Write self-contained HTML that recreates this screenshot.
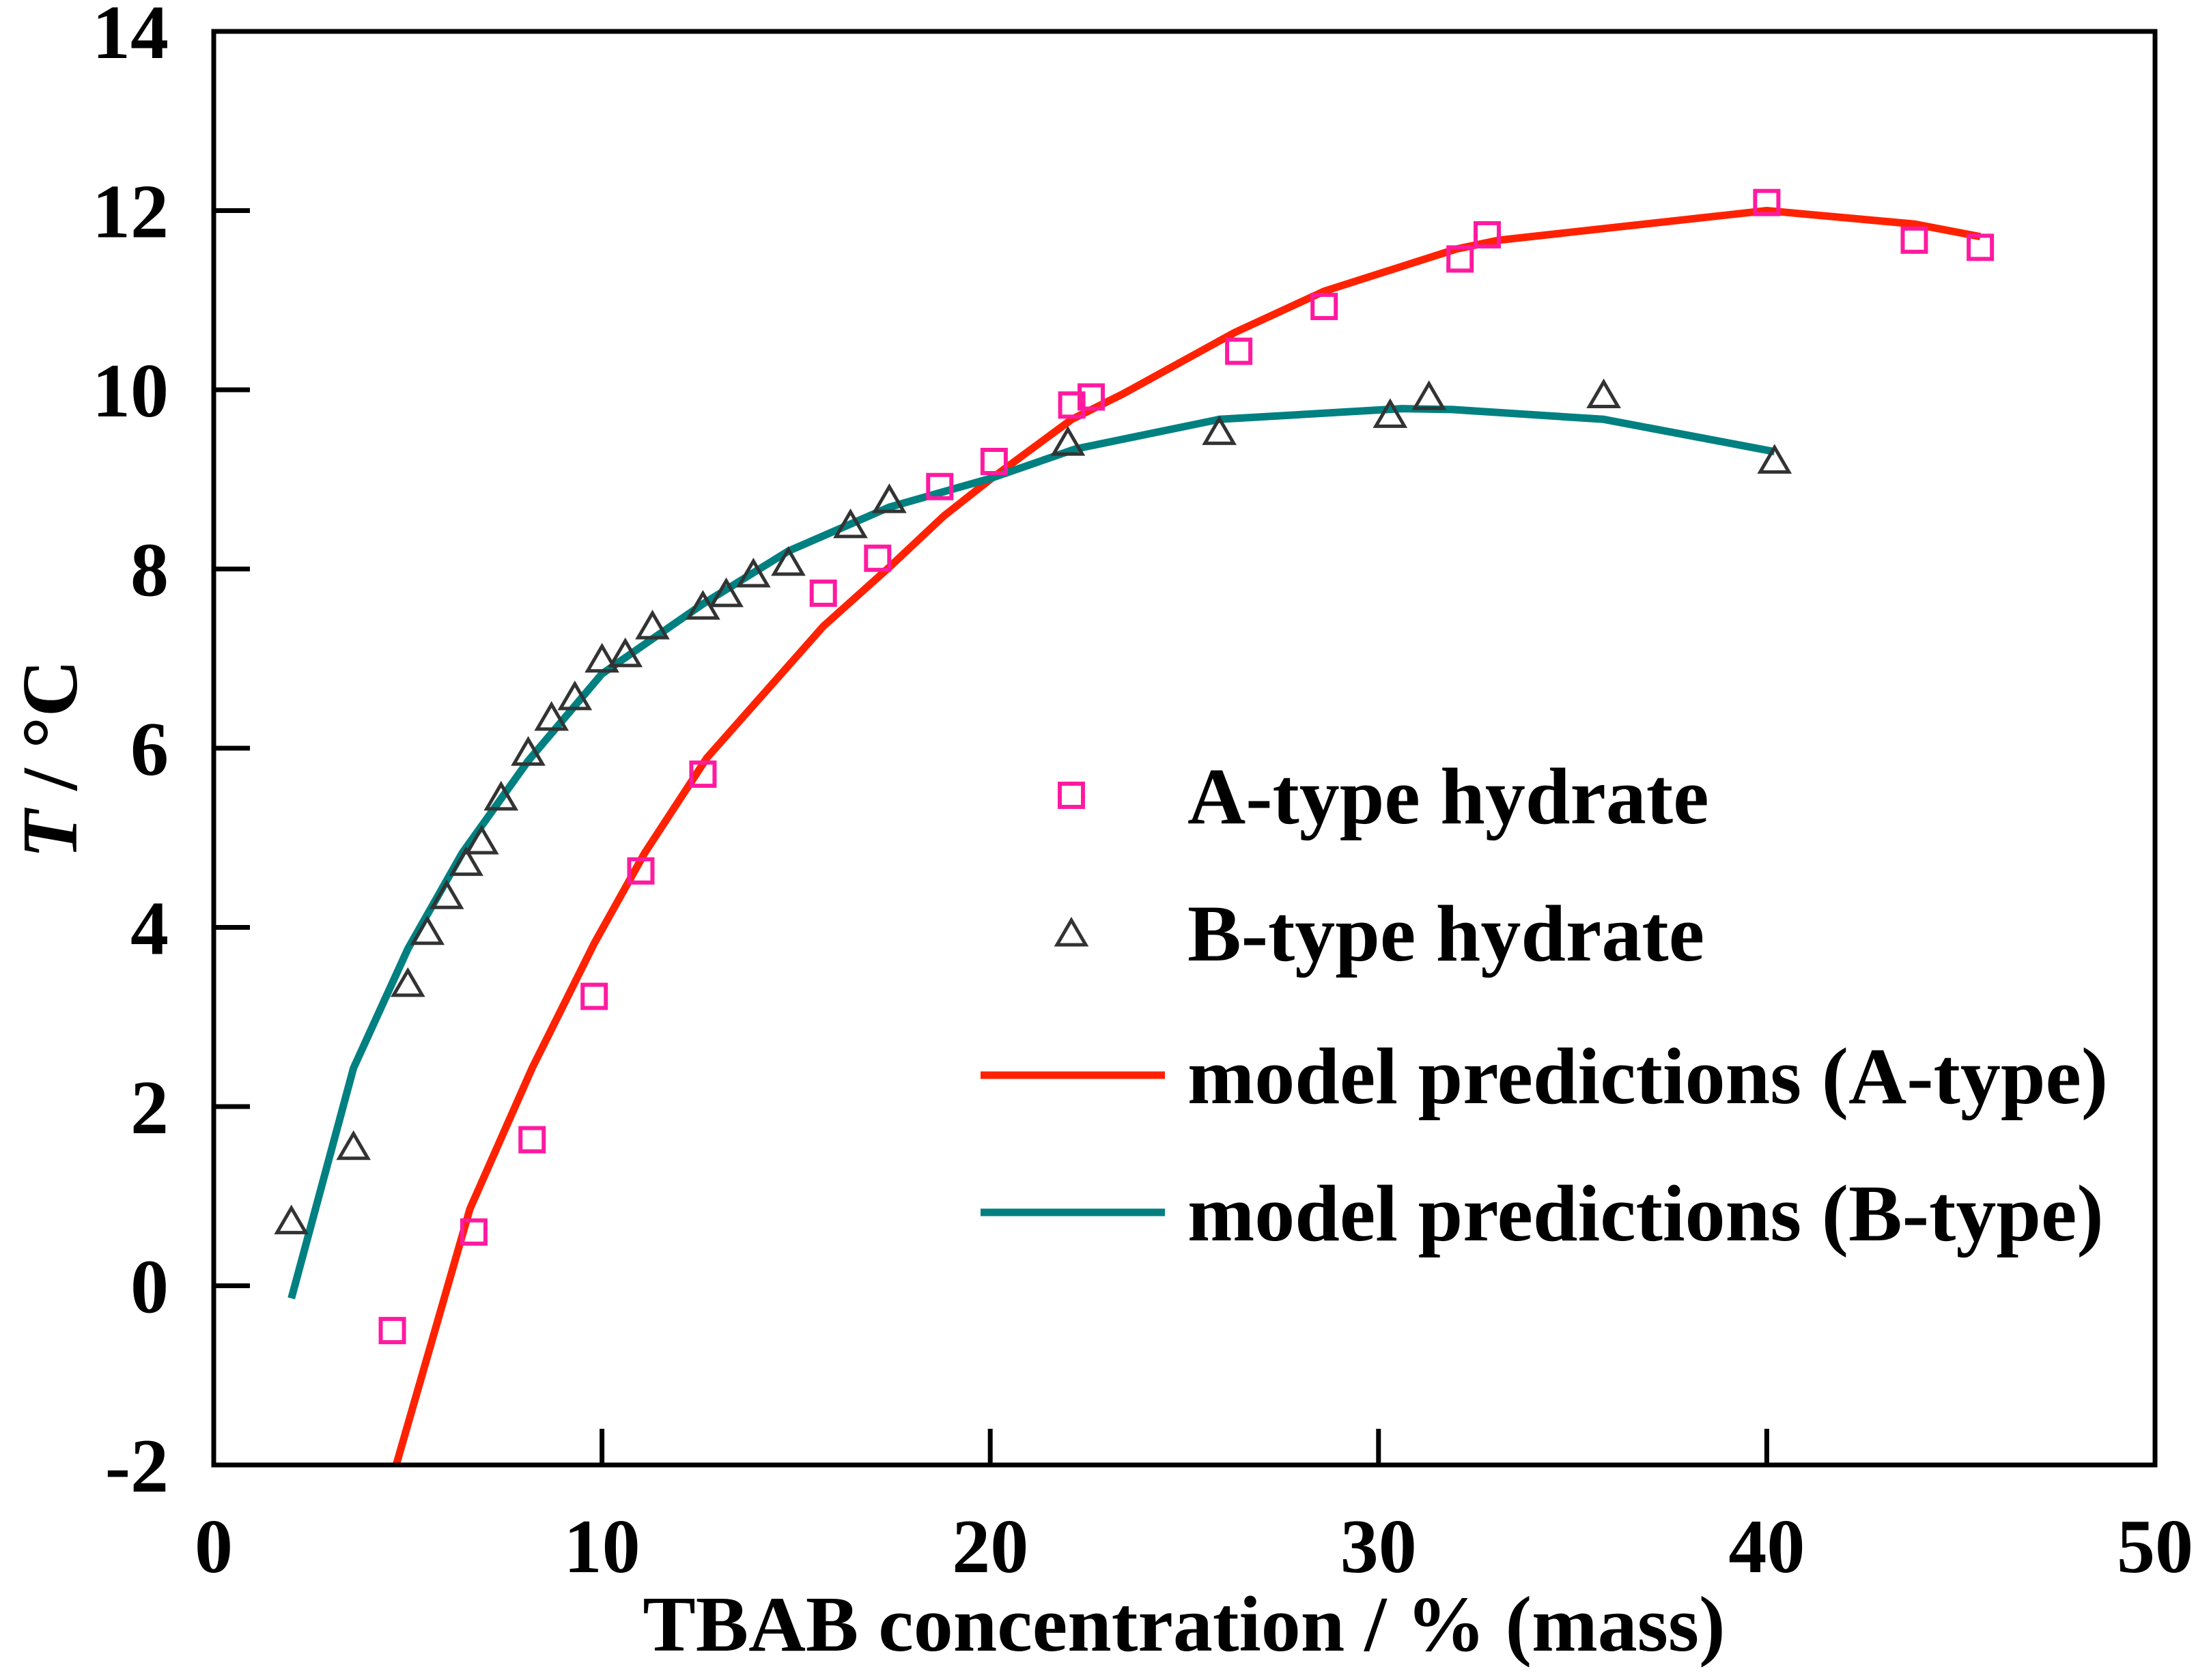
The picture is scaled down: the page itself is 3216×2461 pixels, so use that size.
<!DOCTYPE html>
<html><head><meta charset="utf-8"><style>
html,body{margin:0;padding:0;background:#fff}
svg{display:block}
text{font-family:"Liberation Serif",serif;font-weight:bold;fill:#000}
</style></head><body>
<svg id="chart" width="3216" height="2461" viewBox="0 0 3216 2461" xmlns="http://www.w3.org/2000/svg">
<g id="grid"></g>
<g id="series"></g>
<rect x="313" y="46" width="2843" height="2100" fill="none" stroke="#000" stroke-width="7"/>
<g id="axes"></g>
<text x="1734" y="2418" font-size="116" text-anchor="middle">TBAB concentration / % (mass)</text>
<text transform="translate(112,1112) rotate(-90)" font-size="116" text-anchor="middle"><tspan font-style="italic">T</tspan> / °C</text>
<g id="legend">
<rect x="1552" y="1148" width="34" height="34" fill="none" stroke="#ff1aa0" stroke-width="6"/>
<text x="1739" y="1206" font-size="118">A-type hydrate</text>
<path d="M1569,1348 L1590,1384 L1548,1384 Z" fill="none" stroke="#333" stroke-width="5"/>
<text x="1739" y="1407" font-size="118">B-type hydrate</text>
<line x1="1436" y1="1575" x2="1706" y2="1575" stroke="#ff2200" stroke-width="11"/>
<text x="1739" y="1616" font-size="118">model predictions (A-type)</text>
<line x1="1436" y1="1776" x2="1706" y2="1776" stroke="#008080" stroke-width="11"/>
<text x="1739" y="1817" font-size="118">model predictions (B-type)</text>
</g>
</svg>
<script>
const xTicks = [0,10,20,30,40,50];
const yTicks = [-2,0,2,4,6,8,10,12,14];
const aX = [4.6,6.7,8.2,9.8,11.0,12.6,15.7,17.1,18.7,20.1,22.1,22.6,26.4,28.6,32.1,32.8,40.0,43.8,45.5];
const aY = [-0.5,0.6,1.63,3.23,4.63,5.71,7.73,8.12,8.92,9.2,9.83,9.92,10.43,10.93,11.46,11.73,12.09,11.67,11.59];
const bX = [2.0,3.6,5.0,5.5,6.0,6.5,6.9,7.4,8.1,8.7,9.3,10.0,10.6,11.3,12.6,13.2,13.9,14.8,16.4,17.4,22.0,25.9,30.3,31.3,35.8,40.2];
const bY = [0.7,1.53,3.35,3.93,4.33,4.7,4.94,5.43,5.93,6.32,6.55,6.97,7.03,7.34,7.56,7.7,7.92,8.05,8.47,8.75,9.39,9.51,9.7,9.9,9.92,9.19];
const mAX = [4.7,6.6,8.2,9.8,11.1,12.7,15.7,17.4,18.8,20.0,22.1,23.4,26.3,28.6,32.0,33.1,40.0,43.8,45.5];
const mAY = [-2,0.86,2.43,3.82,4.83,5.89,7.36,8.02,8.59,9.0,9.67,9.95,10.64,11.1,11.57,11.67,12.0,11.85,11.71];
const mBX = [2.0,3.6,5.0,6.4,8.1,10.0,12.6,14.8,17.4,20.0,22.2,25.9,30.6,31.9,35.8,40.2];
const mBY = [-0.14,2.43,3.76,4.83,5.86,6.83,7.61,8.2,8.69,9.01,9.34,9.67,9.79,9.78,9.67,9.31];

const NS = "http://www.w3.org/2000/svg";
const X0=313, X1=3156, Y0=2146, Y1=46;
function sx(v){return X0+(v-0)/(50-0)*(X1-X0);}
function sy(v){return Y0-(v+2)/(14+2)*(Y0-Y1);}
function mk(tag,attrs,parent){const e=document.createElementNS(NS,tag);for(const k in attrs)e.setAttribute(k,attrs[k]);parent.appendChild(e);return e;}
const axes=document.getElementById('axes'), series=document.getElementById('series');

xTicks.forEach(v=>{
  const t=mk('line',{x1:sx(v),x2:sx(v),y1:Y0,y2:Y0-53,stroke:'#000','stroke-width':7},axes);
  
  
  const l=mk('text',{x:sx(v),y:2303,'font-size':112,'text-anchor':'middle'},axes);
  l.textContent=v;
  
  
});
yTicks.forEach(v=>{
  const t=mk('line',{x1:X0,x2:X0+53,y1:sy(v),y2:sy(v),stroke:'#000','stroke-width':7},axes);
  
  
  const l=mk('text',{x:247,y:sy(v)+39,'font-size':112,'text-anchor':'end'},axes);
  l.textContent=v;
  
  
});

function line(xs,ys,color,name){
  const d=xs.map((x,i)=>(i?'L':'M')+sx(x).toFixed(1)+','+sy(ys[i]).toFixed(1)).join(' ');
  const p=mk('path',{d:d,fill:'none',stroke:color,'stroke-width':11,'stroke-linejoin':'round'},series);
  
  
}
line(mAX,mAY,'#ff2200','model-line-a-type');
line(mBX,mBY,'#008080','model-line-b-type');

aX.forEach((x,i)=>{
  const r=mk('rect',{x:sx(x)-17,y:sy(aY[i])-17,width:34,height:34,fill:'none',stroke:'#ff1aa0','stroke-width':6},series);
  
  
});
bX.forEach((x,i)=>{
  const cx=sx(x), cy=sy(bY[i]);
  const p=mk('path',{d:`M${cx},${cy-22} L${cx+21},${cy+14} L${cx-21},${cy+14} Z`,fill:'none',stroke:'#333','stroke-width':5},series);
  
  
});
</script>
</body></html>
